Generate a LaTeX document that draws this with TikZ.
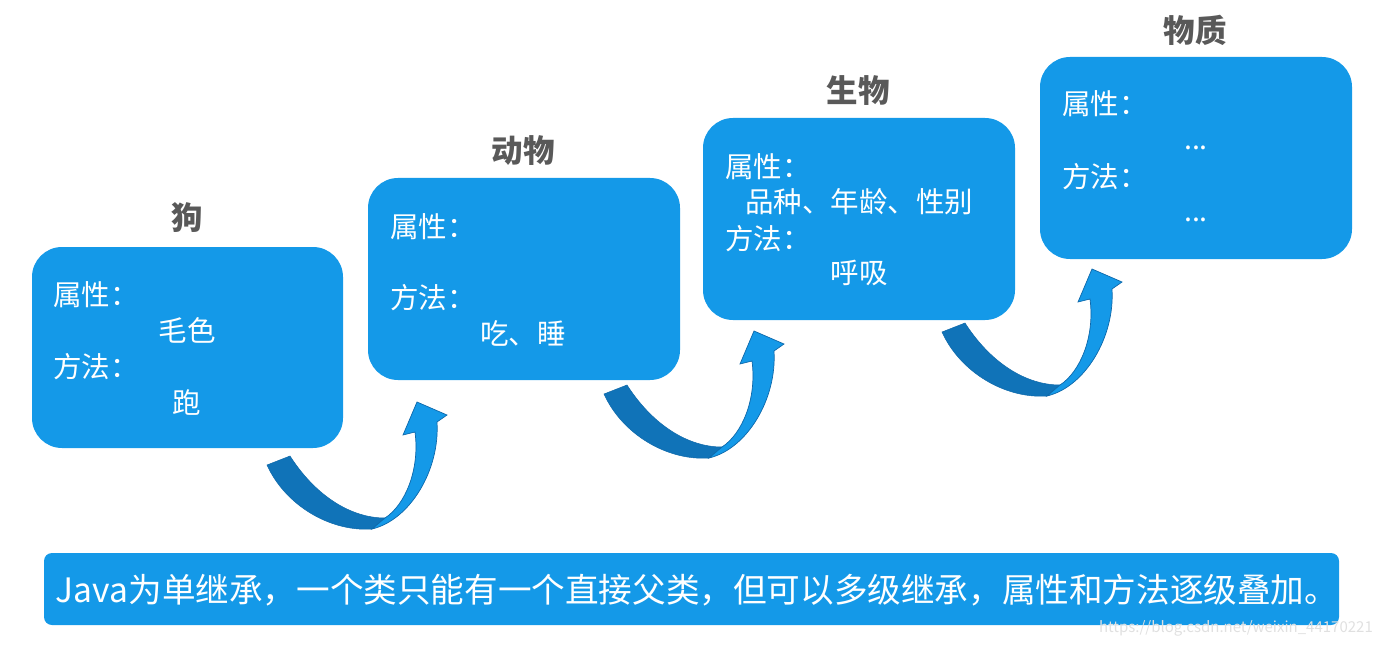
\documentclass[tikz,border=0pt]{standalone}
\usepackage{fontspec}
\setmainfont{Noto Sans CJK SC}
\definecolor{boxblue}{RGB}{20,153,232}
\definecolor{darkblue}{RGB}{16,115,184}
\definecolor{edgeblue}{RGB}{14,104,170}
\definecolor{titlegray}{RGB}{89,89,89}
\tikzset{
  classbox/.style={fill=boxblue, rounded corners=30pt},
  titletext/.style={text=titlegray, font=\fontsize{31.5}{36}\selectfont\bfseries, inner sep=0pt},
  labeltext/.style={text=white, font=\fontsize{28.5}{32}\selectfont, inner sep=0pt, anchor=west},
  valuetext/.style={text=white, font=\fontsize{28.5}{32}\selectfont, inner sep=0pt},
  banner/.style={fill=boxblue, rounded corners=8pt},
}
\newcommand{\bendarrow}[1]{%
  \begin{scope}[shift={(#1)}]
    \fill[darkblue, draw=edgeblue, line width=0.5pt]
      (0,0) .. controls (18,40) and (63,67) .. (105,64)
      -- (118,53) .. controls (83,53) and (48,30) .. (23,-9) -- cycle;
    \fill[boxblue, draw=edgeblue, line width=0.7pt]
      (105,64) .. controls (143,55) and (173,5) .. (170,-43)
      -- (180,-50) -- (150,-63) -- (136,-30) -- (148,-33)
      .. controls (153,5) and (138,40) .. (118,53) -- cycle;
  \end{scope}}
\begin{document}
\begin{tikzpicture}[x=1pt,y=-1pt]
\useasboundingbox (0,0) rectangle (1381,647);
% boxes
\fill[classbox] (32,247) rectangle (343,448);
\fill[classbox] (368,178) rectangle (680,380);
\fill[classbox] (703,118) rectangle (1015,320);
\fill[classbox] (1040,57) rectangle (1352,259);
% titles
\node[titletext] (t1) at (187,218) {狗};
\node[titletext] (t2) at (523,151) {动物};
\node[titletext] (t3) at (858,91) {生物};
\node[titletext] (t4) at (1195,30) {物质};
% box 1
\node[labeltext] (a1) at (53,295) {属性：};
\node[valuetext] (v1) at (187,330) {毛色};
\node[labeltext] (m1) at (53,367) {方法：};
\node[valuetext] (w1) at (187,402) {跑};
% box 2
\node[labeltext] (a2) at (390,227) {属性：};
\node[labeltext] (m2) at (390,298) {方法：};
\node[valuetext] (w2) at (523,333) {吃、睡};
% box 3
\node[labeltext] (a3) at (725,167) {属性：};
\node[valuetext] (v3) at (859,202) {品种、年龄、性别};
\node[labeltext] (m3) at (725,239) {方法：};
\node[valuetext] (w3) at (859,273) {呼吸};
% box 4
\node[labeltext] (a4) at (1062,104) {属性：};
\node[valuetext, anchor=base] (v4) at (1196,150) {...};
\node[labeltext] (m4) at (1062,177) {方法：};
\node[valuetext, anchor=base] (w4) at (1196,222) {...};
% arrows
\coordinate (r1) at (267,465);
\coordinate (r2) at (604,394);
\coordinate (r3) at (942,332);
\bendarrow{r1}
\bendarrow{r2}
\bendarrow{r3}
% banner
\fill[banner] (44,553) rectangle (1339,625);
\node[text=white, font=\fontsize{33.6}{38}\selectfont, inner sep=0pt] (b) at (697,590)
  {Java为单继承，一个类只能有一个直接父类，但可以多级继承，属性和方法逐级叠加。};
\node[text=black!12, font=\fontsize{15}{18}\selectfont, inner sep=0pt, anchor=east] (wm) at (1373,628)
  {https://blog.csdn.net/weixin\_44170221};
\end{tikzpicture}
\end{document}
